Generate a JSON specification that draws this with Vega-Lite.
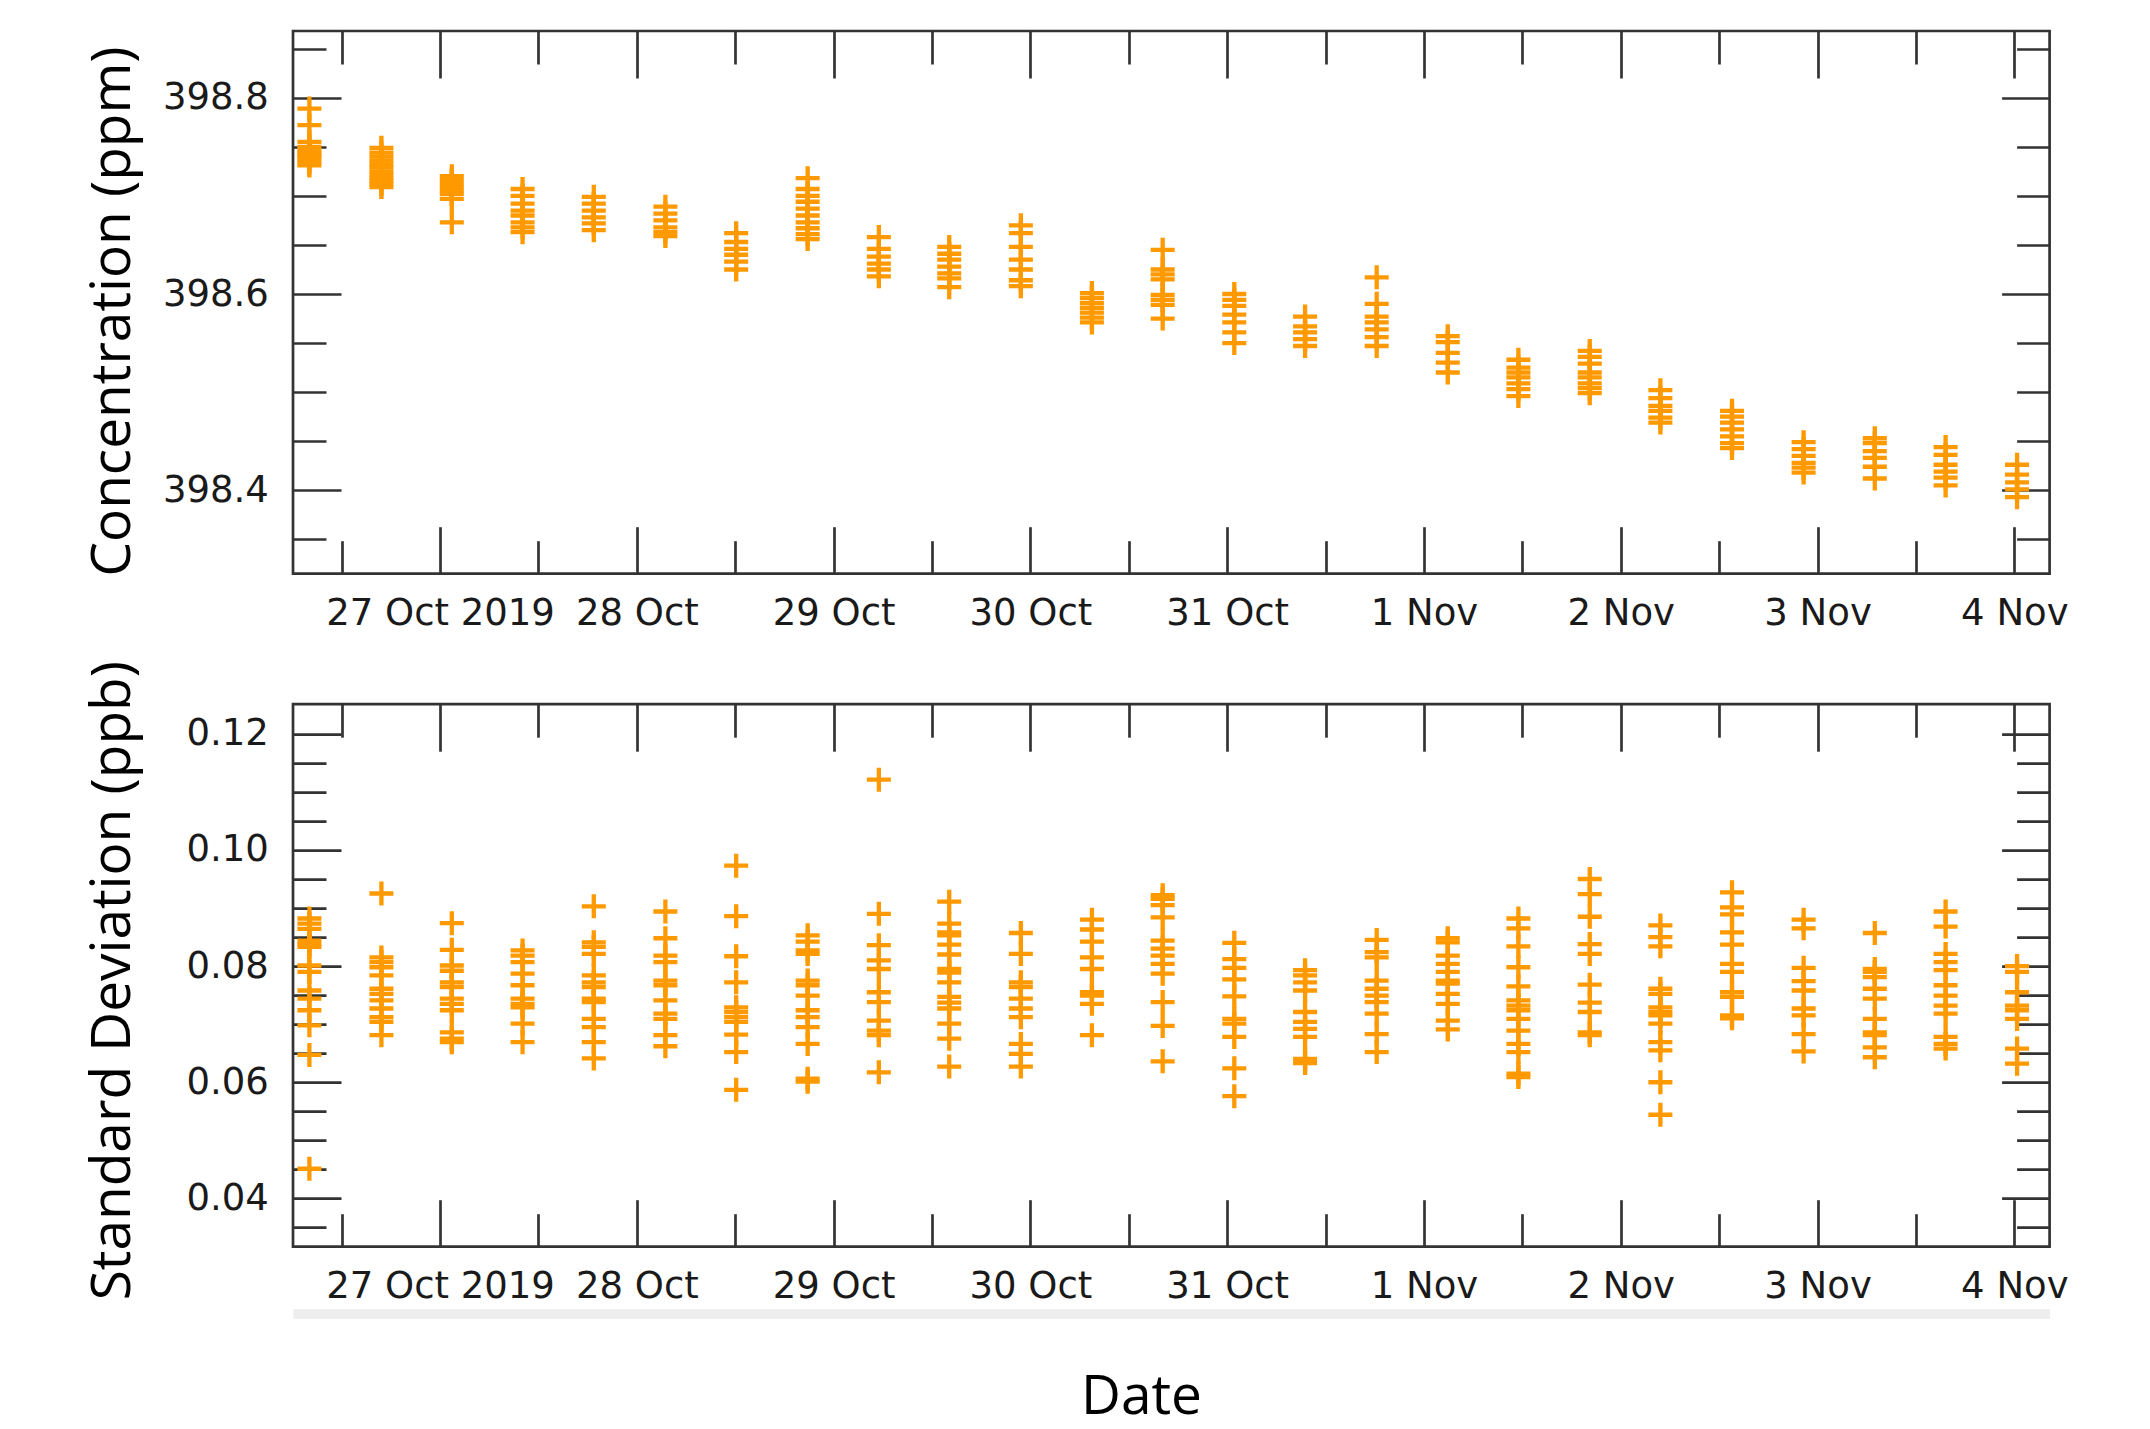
{
"$schema": "https://vega.github.io/schema/vega-lite/v6.json",
"background": "white",
"padding": {"left": 84, "top": 28, "right": 10, "bottom": 8},
"config": {
  "view": {"stroke": "#333333", "strokeWidth": 2.7},
  "axis": {"grid": false, "domain": false, "labelFont": "DejaVu Sans", "labelFontSize": 37, "labelColor": "#1a1a1a", "labelLimit": 0, "tickColor": "#333333", "tickWidth": 2.7, "titleFont": "Open Sans", "titleFontSize": 55, "titleFontWeight": "normal", "titleColor": "#000000", "labelOverlap": false, "labelFlush": false, "labelBound": false}
},
"datasets": {
"conc": [
{"t":"2019-10-26T08:04:00Z","c":398.789},{"t":"2019-10-26T08:04:00Z","c":398.772},{"t":"2019-10-26T08:04:00Z","c":398.755},{"t":"2019-10-26T08:04:00Z","c":398.750},{"t":"2019-10-26T08:04:00Z","c":398.747},{"t":"2019-10-26T08:04:00Z","c":398.744},{"t":"2019-10-26T08:04:00Z","c":398.742},{"t":"2019-10-26T08:04:00Z","c":398.740},{"t":"2019-10-26T08:04:00Z","c":398.737},{"t":"2019-10-26T08:04:00Z","c":398.734},{"t":"2019-10-26T08:04:00Z","c":398.731},
{"t":"2019-10-26T16:51:00Z","c":398.749},{"t":"2019-10-26T16:51:00Z","c":398.744},{"t":"2019-10-26T16:51:00Z","c":398.740},{"t":"2019-10-26T16:51:00Z","c":398.736},{"t":"2019-10-26T16:51:00Z","c":398.732},{"t":"2019-10-26T16:51:00Z","c":398.729},{"t":"2019-10-26T16:51:00Z","c":398.725},{"t":"2019-10-26T16:51:00Z","c":398.722},{"t":"2019-10-26T16:51:00Z","c":398.718},{"t":"2019-10-26T16:51:00Z","c":398.715},{"t":"2019-10-26T16:51:00Z","c":398.712},{"t":"2019-10-26T16:51:00Z","c":398.709},
{"t":"2019-10-27T01:26:00Z","c":398.720},{"t":"2019-10-27T01:26:00Z","c":398.716},{"t":"2019-10-27T01:26:00Z","c":398.712},{"t":"2019-10-27T01:26:00Z","c":398.709},{"t":"2019-10-27T01:26:00Z","c":398.705},{"t":"2019-10-27T01:26:00Z","c":398.702},{"t":"2019-10-27T01:26:00Z","c":398.697},{"t":"2019-10-27T01:26:00Z","c":398.673},
{"t":"2019-10-27T10:04:00Z","c":398.707},{"t":"2019-10-27T10:04:00Z","c":398.700},{"t":"2019-10-27T10:04:00Z","c":398.692},{"t":"2019-10-27T10:04:00Z","c":398.685},{"t":"2019-10-27T10:04:00Z","c":398.680},{"t":"2019-10-27T10:04:00Z","c":398.673},{"t":"2019-10-27T10:04:00Z","c":398.668},{"t":"2019-10-27T10:04:00Z","c":398.663},
{"t":"2019-10-27T18:45:00Z","c":398.699},{"t":"2019-10-27T18:45:00Z","c":398.692},{"t":"2019-10-27T18:45:00Z","c":398.685},{"t":"2019-10-27T18:45:00Z","c":398.678},{"t":"2019-10-27T18:45:00Z","c":398.672},{"t":"2019-10-27T18:45:00Z","c":398.665},
{"t":"2019-10-28T03:29:00Z","c":398.689},{"t":"2019-10-28T03:29:00Z","c":398.682},{"t":"2019-10-28T03:29:00Z","c":398.675},{"t":"2019-10-28T03:29:00Z","c":398.668},{"t":"2019-10-28T03:29:00Z","c":398.663},{"t":"2019-10-28T03:29:00Z","c":398.659},
{"t":"2019-10-28T12:07:00Z","c":398.662},{"t":"2019-10-28T12:07:00Z","c":398.653},{"t":"2019-10-28T12:07:00Z","c":398.646},{"t":"2019-10-28T12:07:00Z","c":398.640},{"t":"2019-10-28T12:07:00Z","c":398.633},{"t":"2019-10-28T12:07:00Z","c":398.625},
{"t":"2019-10-28T20:50:00Z","c":398.718},{"t":"2019-10-28T20:50:00Z","c":398.707},{"t":"2019-10-28T20:50:00Z","c":398.700},{"t":"2019-10-28T20:50:00Z","c":398.694},{"t":"2019-10-28T20:50:00Z","c":398.687},{"t":"2019-10-28T20:50:00Z","c":398.680},{"t":"2019-10-28T20:50:00Z","c":398.673},{"t":"2019-10-28T20:50:00Z","c":398.667},{"t":"2019-10-28T20:50:00Z","c":398.661},{"t":"2019-10-28T20:50:00Z","c":398.656},
{"t":"2019-10-29T05:31:00Z","c":398.658},{"t":"2019-10-29T05:31:00Z","c":398.646},{"t":"2019-10-29T05:31:00Z","c":398.638},{"t":"2019-10-29T05:31:00Z","c":398.631},{"t":"2019-10-29T05:31:00Z","c":398.625},{"t":"2019-10-29T05:31:00Z","c":398.618},
{"t":"2019-10-29T14:06:00Z","c":398.648},{"t":"2019-10-29T14:06:00Z","c":398.641},{"t":"2019-10-29T14:06:00Z","c":398.635},{"t":"2019-10-29T14:06:00Z","c":398.628},{"t":"2019-10-29T14:06:00Z","c":398.621},{"t":"2019-10-29T14:06:00Z","c":398.616},{"t":"2019-10-29T14:06:00Z","c":398.607},
{"t":"2019-10-29T22:50:00Z","c":398.670},{"t":"2019-10-29T22:50:00Z","c":398.662},{"t":"2019-10-29T22:50:00Z","c":398.648},{"t":"2019-10-29T22:50:00Z","c":398.635},{"t":"2019-10-29T22:50:00Z","c":398.625},{"t":"2019-10-29T22:50:00Z","c":398.614},{"t":"2019-10-29T22:50:00Z","c":398.608},
{"t":"2019-10-30T07:30:00Z","c":398.601},{"t":"2019-10-30T07:30:00Z","c":398.596},{"t":"2019-10-30T07:30:00Z","c":398.591},{"t":"2019-10-30T07:30:00Z","c":398.586},{"t":"2019-10-30T07:30:00Z","c":398.581},{"t":"2019-10-30T07:30:00Z","c":398.576},{"t":"2019-10-30T07:30:00Z","c":398.571},
{"t":"2019-10-30T16:08:00Z","c":398.645},{"t":"2019-10-30T16:08:00Z","c":398.625},{"t":"2019-10-30T16:08:00Z","c":398.620},{"t":"2019-10-30T16:08:00Z","c":398.615},{"t":"2019-10-30T16:08:00Z","c":398.599},{"t":"2019-10-30T16:08:00Z","c":398.594},{"t":"2019-10-30T16:08:00Z","c":398.589},{"t":"2019-10-30T16:08:00Z","c":398.575},
{"t":"2019-10-31T00:52:00Z","c":398.600},{"t":"2019-10-31T00:52:00Z","c":398.594},{"t":"2019-10-31T00:52:00Z","c":398.588},{"t":"2019-10-31T00:52:00Z","c":398.579},{"t":"2019-10-31T00:52:00Z","c":398.571},{"t":"2019-10-31T00:52:00Z","c":398.561},{"t":"2019-10-31T00:52:00Z","c":398.550},
{"t":"2019-10-31T09:30:00Z","c":398.577},{"t":"2019-10-31T09:30:00Z","c":398.567},{"t":"2019-10-31T09:30:00Z","c":398.561},{"t":"2019-10-31T09:30:00Z","c":398.554},{"t":"2019-10-31T09:30:00Z","c":398.547},
{"t":"2019-10-31T18:14:00Z","c":398.617},{"t":"2019-10-31T18:14:00Z","c":398.590},{"t":"2019-10-31T18:14:00Z","c":398.577},{"t":"2019-10-31T18:14:00Z","c":398.571},{"t":"2019-10-31T18:14:00Z","c":398.564},{"t":"2019-10-31T18:14:00Z","c":398.556},{"t":"2019-10-31T18:14:00Z","c":398.547},
{"t":"2019-11-01T02:54:00Z","c":398.557},{"t":"2019-11-01T02:54:00Z","c":398.551},{"t":"2019-11-01T02:54:00Z","c":398.540},{"t":"2019-11-01T02:54:00Z","c":398.530},{"t":"2019-11-01T02:54:00Z","c":398.520},
{"t":"2019-11-01T11:31:00Z","c":398.533},{"t":"2019-11-01T11:31:00Z","c":398.525},{"t":"2019-11-01T11:31:00Z","c":398.520},{"t":"2019-11-01T11:31:00Z","c":398.515},{"t":"2019-11-01T11:31:00Z","c":398.509},{"t":"2019-11-01T11:31:00Z","c":398.503},{"t":"2019-11-01T11:31:00Z","c":398.496},
{"t":"2019-11-01T20:13:00Z","c":398.542},{"t":"2019-11-01T20:13:00Z","c":398.536},{"t":"2019-11-01T20:13:00Z","c":398.529},{"t":"2019-11-01T20:13:00Z","c":398.520},{"t":"2019-11-01T20:13:00Z","c":398.515},{"t":"2019-11-01T20:13:00Z","c":398.509},{"t":"2019-11-01T20:13:00Z","c":398.504},{"t":"2019-11-01T20:13:00Z","c":398.499},
{"t":"2019-11-02T04:50:00Z","c":398.502},{"t":"2019-11-02T04:50:00Z","c":398.494},{"t":"2019-11-02T04:50:00Z","c":398.486},{"t":"2019-11-02T04:50:00Z","c":398.481},{"t":"2019-11-02T04:50:00Z","c":398.474},{"t":"2019-11-02T04:50:00Z","c":398.469},
{"t":"2019-11-02T13:34:00Z","c":398.481},{"t":"2019-11-02T13:34:00Z","c":398.475},{"t":"2019-11-02T13:34:00Z","c":398.469},{"t":"2019-11-02T13:34:00Z","c":398.462},{"t":"2019-11-02T13:34:00Z","c":398.455},{"t":"2019-11-02T13:34:00Z","c":398.448},{"t":"2019-11-02T13:34:00Z","c":398.443},
{"t":"2019-11-02T22:18:00Z","c":398.449},{"t":"2019-11-02T22:18:00Z","c":398.442},{"t":"2019-11-02T22:18:00Z","c":398.435},{"t":"2019-11-02T22:18:00Z","c":398.428},{"t":"2019-11-02T22:18:00Z","c":398.423},{"t":"2019-11-02T22:18:00Z","c":398.418},
{"t":"2019-11-03T06:59:00Z","c":398.453},{"t":"2019-11-03T06:59:00Z","c":398.448},{"t":"2019-11-03T06:59:00Z","c":398.440},{"t":"2019-11-03T06:59:00Z","c":398.433},{"t":"2019-11-03T06:59:00Z","c":398.424},{"t":"2019-11-03T06:59:00Z","c":398.412},
{"t":"2019-11-03T15:37:00Z","c":398.444},{"t":"2019-11-03T15:37:00Z","c":398.436},{"t":"2019-11-03T15:37:00Z","c":398.426},{"t":"2019-11-03T15:37:00Z","c":398.419},{"t":"2019-11-03T15:37:00Z","c":398.413},{"t":"2019-11-03T15:37:00Z","c":398.405},
{"t":"2019-11-04T00:20:00Z","c":398.426},{"t":"2019-11-04T00:20:00Z","c":398.416},{"t":"2019-11-04T00:20:00Z","c":398.408},{"t":"2019-11-04T00:20:00Z","c":398.401},{"t":"2019-11-04T00:20:00Z","c":398.393}
],
"sd": [
{"t":"2019-10-26T08:04:00Z","s":0.0882},{"t":"2019-10-26T08:04:00Z","s":0.0873},{"t":"2019-10-26T08:04:00Z","s":0.0864},{"t":"2019-10-26T08:04:00Z","s":0.0844},{"t":"2019-10-26T08:04:00Z","s":0.0838},{"t":"2019-10-26T08:04:00Z","s":0.0833},{"t":"2019-10-26T08:04:00Z","s":0.0801},{"t":"2019-10-26T08:04:00Z","s":0.0790},{"t":"2019-10-26T08:04:00Z","s":0.0758},{"t":"2019-10-26T08:04:00Z","s":0.0744},{"t":"2019-10-26T08:04:00Z","s":0.0724},{"t":"2019-10-26T08:04:00Z","s":0.0698},{"t":"2019-10-26T08:04:00Z","s":0.0647},{"t":"2019-10-26T08:04:00Z","s":0.0451},
{"t":"2019-10-26T16:51:00Z","s":0.0925},{"t":"2019-10-26T16:51:00Z","s":0.0815},{"t":"2019-10-26T16:51:00Z","s":0.0807},{"t":"2019-10-26T16:51:00Z","s":0.0798},{"t":"2019-10-26T16:51:00Z","s":0.0784},{"t":"2019-10-26T16:51:00Z","s":0.0761},{"t":"2019-10-26T16:51:00Z","s":0.0752},{"t":"2019-10-26T16:51:00Z","s":0.0741},{"t":"2019-10-26T16:51:00Z","s":0.0727},{"t":"2019-10-26T16:51:00Z","s":0.0712},{"t":"2019-10-26T16:51:00Z","s":0.0704},{"t":"2019-10-26T16:51:00Z","s":0.0681},
{"t":"2019-10-27T01:26:00Z","s":0.0874},{"t":"2019-10-27T01:26:00Z","s":0.0828},{"t":"2019-10-27T01:26:00Z","s":0.0801},{"t":"2019-10-27T01:26:00Z","s":0.0792},{"t":"2019-10-27T01:26:00Z","s":0.0772},{"t":"2019-10-27T01:26:00Z","s":0.0764},{"t":"2019-10-27T01:26:00Z","s":0.0744},{"t":"2019-10-27T01:26:00Z","s":0.0735},{"t":"2019-10-27T01:26:00Z","s":0.0724},{"t":"2019-10-27T01:26:00Z","s":0.0686},{"t":"2019-10-27T01:26:00Z","s":0.0675},{"t":"2019-10-27T01:26:00Z","s":0.0669},
{"t":"2019-10-27T10:04:00Z","s":0.0827},{"t":"2019-10-27T10:04:00Z","s":0.0818},{"t":"2019-10-27T10:04:00Z","s":0.0807},{"t":"2019-10-27T10:04:00Z","s":0.0787},{"t":"2019-10-27T10:04:00Z","s":0.0767},{"t":"2019-10-27T10:04:00Z","s":0.0744},{"t":"2019-10-27T10:04:00Z","s":0.0735},{"t":"2019-10-27T10:04:00Z","s":0.0729},{"t":"2019-10-27T10:04:00Z","s":0.0701},{"t":"2019-10-27T10:04:00Z","s":0.0669},
{"t":"2019-10-27T18:45:00Z","s":0.0903},{"t":"2019-10-27T18:45:00Z","s":0.0841},{"t":"2019-10-27T18:45:00Z","s":0.0833},{"t":"2019-10-27T18:45:00Z","s":0.0821},{"t":"2019-10-27T18:45:00Z","s":0.0784},{"t":"2019-10-27T18:45:00Z","s":0.0772},{"t":"2019-10-27T18:45:00Z","s":0.0764},{"t":"2019-10-27T18:45:00Z","s":0.0744},{"t":"2019-10-27T18:45:00Z","s":0.0738},{"t":"2019-10-27T18:45:00Z","s":0.0709},{"t":"2019-10-27T18:45:00Z","s":0.0695},{"t":"2019-10-27T18:45:00Z","s":0.0669},{"t":"2019-10-27T18:45:00Z","s":0.0641},
{"t":"2019-10-28T03:29:00Z","s":0.0894},{"t":"2019-10-28T03:29:00Z","s":0.0848},{"t":"2019-10-28T03:29:00Z","s":0.0818},{"t":"2019-10-28T03:29:00Z","s":0.0807},{"t":"2019-10-28T03:29:00Z","s":0.0775},{"t":"2019-10-28T03:29:00Z","s":0.0767},{"t":"2019-10-28T03:29:00Z","s":0.0741},{"t":"2019-10-28T03:29:00Z","s":0.0718},{"t":"2019-10-28T03:29:00Z","s":0.0709},{"t":"2019-10-28T03:29:00Z","s":0.0681},{"t":"2019-10-28T03:29:00Z","s":0.0662},
{"t":"2019-10-28T12:07:00Z","s":0.0973},{"t":"2019-10-28T12:07:00Z","s":0.0886},{"t":"2019-10-28T12:07:00Z","s":0.0817},{"t":"2019-10-28T12:07:00Z","s":0.0772},{"t":"2019-10-28T12:07:00Z","s":0.0729},{"t":"2019-10-28T12:07:00Z","s":0.0721},{"t":"2019-10-28T12:07:00Z","s":0.0712},{"t":"2019-10-28T12:07:00Z","s":0.0704},{"t":"2019-10-28T12:07:00Z","s":0.0682},{"t":"2019-10-28T12:07:00Z","s":0.0652},{"t":"2019-10-28T12:07:00Z","s":0.0587},
{"t":"2019-10-28T20:50:00Z","s":0.0853},{"t":"2019-10-28T20:50:00Z","s":0.0842},{"t":"2019-10-28T20:50:00Z","s":0.0827},{"t":"2019-10-28T20:50:00Z","s":0.0821},{"t":"2019-10-28T20:50:00Z","s":0.0775},{"t":"2019-10-28T20:50:00Z","s":0.0767},{"t":"2019-10-28T20:50:00Z","s":0.0749},{"t":"2019-10-28T20:50:00Z","s":0.0724},{"t":"2019-10-28T20:50:00Z","s":0.0712},{"t":"2019-10-28T20:50:00Z","s":0.0695},{"t":"2019-10-28T20:50:00Z","s":0.0666},{"t":"2019-10-28T20:50:00Z","s":0.0606},{"t":"2019-10-28T20:50:00Z","s":0.0601},
{"t":"2019-10-29T05:31:00Z","s":0.1121},{"t":"2019-10-29T05:31:00Z","s":0.0890},{"t":"2019-10-29T05:31:00Z","s":0.0836},{"t":"2019-10-29T05:31:00Z","s":0.0810},{"t":"2019-10-29T05:31:00Z","s":0.0795},{"t":"2019-10-29T05:31:00Z","s":0.0755},{"t":"2019-10-29T05:31:00Z","s":0.0738},{"t":"2019-10-29T05:31:00Z","s":0.0706},{"t":"2019-10-29T05:31:00Z","s":0.0689},{"t":"2019-10-29T05:31:00Z","s":0.0681},{"t":"2019-10-29T05:31:00Z","s":0.0617},
{"t":"2019-10-29T14:06:00Z","s":0.0911},{"t":"2019-10-29T14:06:00Z","s":0.0873},{"t":"2019-10-29T14:06:00Z","s":0.0858},{"t":"2019-10-29T14:06:00Z","s":0.0853},{"t":"2019-10-29T14:06:00Z","s":0.0837},{"t":"2019-10-29T14:06:00Z","s":0.0820},{"t":"2019-10-29T14:06:00Z","s":0.0795},{"t":"2019-10-29T14:06:00Z","s":0.0789},{"t":"2019-10-29T14:06:00Z","s":0.0772},{"t":"2019-10-29T14:06:00Z","s":0.0747},{"t":"2019-10-29T14:06:00Z","s":0.0737},{"t":"2019-10-29T14:06:00Z","s":0.0727},{"t":"2019-10-29T14:06:00Z","s":0.0701},{"t":"2019-10-29T14:06:00Z","s":0.0675},{"t":"2019-10-29T14:06:00Z","s":0.0627},
{"t":"2019-10-29T22:50:00Z","s":0.0857},{"t":"2019-10-29T22:50:00Z","s":0.0821},{"t":"2019-10-29T22:50:00Z","s":0.0772},{"t":"2019-10-29T22:50:00Z","s":0.0764},{"t":"2019-10-29T22:50:00Z","s":0.0744},{"t":"2019-10-29T22:50:00Z","s":0.0727},{"t":"2019-10-29T22:50:00Z","s":0.0712},{"t":"2019-10-29T22:50:00Z","s":0.0666},{"t":"2019-10-29T22:50:00Z","s":0.0649},{"t":"2019-10-29T22:50:00Z","s":0.0627},
{"t":"2019-10-30T07:30:00Z","s":0.0880},{"t":"2019-10-30T07:30:00Z","s":0.0863},{"t":"2019-10-30T07:30:00Z","s":0.0842},{"t":"2019-10-30T07:30:00Z","s":0.0815},{"t":"2019-10-30T07:30:00Z","s":0.0795},{"t":"2019-10-30T07:30:00Z","s":0.0755},{"t":"2019-10-30T07:30:00Z","s":0.0749},{"t":"2019-10-30T07:30:00Z","s":0.0735},{"t":"2019-10-30T07:30:00Z","s":0.0681},
{"t":"2019-10-30T16:08:00Z","s":0.0922},{"t":"2019-10-30T16:08:00Z","s":0.0916},{"t":"2019-10-30T16:08:00Z","s":0.0905},{"t":"2019-10-30T16:08:00Z","s":0.0884},{"t":"2019-10-30T16:08:00Z","s":0.0844},{"t":"2019-10-30T16:08:00Z","s":0.0830},{"t":"2019-10-30T16:08:00Z","s":0.0818},{"t":"2019-10-30T16:08:00Z","s":0.0804},{"t":"2019-10-30T16:08:00Z","s":0.0787},{"t":"2019-10-30T16:08:00Z","s":0.0738},{"t":"2019-10-30T16:08:00Z","s":0.0697},{"t":"2019-10-30T16:08:00Z","s":0.0636},
{"t":"2019-10-31T00:52:00Z","s":0.0840},{"t":"2019-10-31T00:52:00Z","s":0.0812},{"t":"2019-10-31T00:52:00Z","s":0.0797},{"t":"2019-10-31T00:52:00Z","s":0.0777},{"t":"2019-10-31T00:52:00Z","s":0.0748},{"t":"2019-10-31T00:52:00Z","s":0.0709},{"t":"2019-10-31T00:52:00Z","s":0.0701},{"t":"2019-10-31T00:52:00Z","s":0.0678},{"t":"2019-10-31T00:52:00Z","s":0.0624},{"t":"2019-10-31T00:52:00Z","s":0.0576},
{"t":"2019-10-31T09:30:00Z","s":0.0793},{"t":"2019-10-31T09:30:00Z","s":0.0784},{"t":"2019-10-31T09:30:00Z","s":0.0772},{"t":"2019-10-31T09:30:00Z","s":0.0758},{"t":"2019-10-31T09:30:00Z","s":0.0721},{"t":"2019-10-31T09:30:00Z","s":0.0704},{"t":"2019-10-31T09:30:00Z","s":0.0692},{"t":"2019-10-31T09:30:00Z","s":0.0678},{"t":"2019-10-31T09:30:00Z","s":0.0640},{"t":"2019-10-31T09:30:00Z","s":0.0633},
{"t":"2019-10-31T18:14:00Z","s":0.0845},{"t":"2019-10-31T18:14:00Z","s":0.0824},{"t":"2019-10-31T18:14:00Z","s":0.0815},{"t":"2019-10-31T18:14:00Z","s":0.0775},{"t":"2019-10-31T18:14:00Z","s":0.0761},{"t":"2019-10-31T18:14:00Z","s":0.0749},{"t":"2019-10-31T18:14:00Z","s":0.0738},{"t":"2019-10-31T18:14:00Z","s":0.0718},{"t":"2019-10-31T18:14:00Z","s":0.0683},{"t":"2019-10-31T18:14:00Z","s":0.0652},
{"t":"2019-11-01T02:54:00Z","s":0.0848},{"t":"2019-11-01T02:54:00Z","s":0.0841},{"t":"2019-11-01T02:54:00Z","s":0.0818},{"t":"2019-11-01T02:54:00Z","s":0.0804},{"t":"2019-11-01T02:54:00Z","s":0.0790},{"t":"2019-11-01T02:54:00Z","s":0.0775},{"t":"2019-11-01T02:54:00Z","s":0.0770},{"t":"2019-11-01T02:54:00Z","s":0.0752},{"t":"2019-11-01T02:54:00Z","s":0.0735},{"t":"2019-11-01T02:54:00Z","s":0.0706},{"t":"2019-11-01T02:54:00Z","s":0.0691},
{"t":"2019-11-01T11:31:00Z","s":0.0882},{"t":"2019-11-01T11:31:00Z","s":0.0865},{"t":"2019-11-01T11:31:00Z","s":0.0834},{"t":"2019-11-01T11:31:00Z","s":0.0798},{"t":"2019-11-01T11:31:00Z","s":0.0765},{"t":"2019-11-01T11:31:00Z","s":0.0741},{"t":"2019-11-01T11:31:00Z","s":0.0732},{"t":"2019-11-01T11:31:00Z","s":0.0724},{"t":"2019-11-01T11:31:00Z","s":0.0709},{"t":"2019-11-01T11:31:00Z","s":0.0689},{"t":"2019-11-01T11:31:00Z","s":0.0666},{"t":"2019-11-01T11:31:00Z","s":0.0652},{"t":"2019-11-01T11:31:00Z","s":0.0615},{"t":"2019-11-01T11:31:00Z","s":0.0609},
{"t":"2019-11-01T20:13:00Z","s":0.0950},{"t":"2019-11-01T20:13:00Z","s":0.0924},{"t":"2019-11-01T20:13:00Z","s":0.0885},{"t":"2019-11-01T20:13:00Z","s":0.0838},{"t":"2019-11-01T20:13:00Z","s":0.0821},{"t":"2019-11-01T20:13:00Z","s":0.0768},{"t":"2019-11-01T20:13:00Z","s":0.0737},{"t":"2019-11-01T20:13:00Z","s":0.0721},{"t":"2019-11-01T20:13:00Z","s":0.0686},{"t":"2019-11-01T20:13:00Z","s":0.0681},
{"t":"2019-11-02T04:50:00Z","s":0.0870},{"t":"2019-11-02T04:50:00Z","s":0.0850},{"t":"2019-11-02T04:50:00Z","s":0.0834},{"t":"2019-11-02T04:50:00Z","s":0.0761},{"t":"2019-11-02T04:50:00Z","s":0.0752},{"t":"2019-11-02T04:50:00Z","s":0.0729},{"t":"2019-11-02T04:50:00Z","s":0.0721},{"t":"2019-11-02T04:50:00Z","s":0.0715},{"t":"2019-11-02T04:50:00Z","s":0.0701},{"t":"2019-11-02T04:50:00Z","s":0.0669},{"t":"2019-11-02T04:50:00Z","s":0.0655},{"t":"2019-11-02T04:50:00Z","s":0.0600},{"t":"2019-11-02T04:50:00Z","s":0.0544},
{"t":"2019-11-02T13:34:00Z","s":0.0927},{"t":"2019-11-02T13:34:00Z","s":0.0901},{"t":"2019-11-02T13:34:00Z","s":0.0889},{"t":"2019-11-02T13:34:00Z","s":0.0858},{"t":"2019-11-02T13:34:00Z","s":0.0837},{"t":"2019-11-02T13:34:00Z","s":0.0804},{"t":"2019-11-02T13:34:00Z","s":0.0790},{"t":"2019-11-02T13:34:00Z","s":0.0755},{"t":"2019-11-02T13:34:00Z","s":0.0747},{"t":"2019-11-02T13:34:00Z","s":0.0715},{"t":"2019-11-02T13:34:00Z","s":0.0710},
{"t":"2019-11-02T22:18:00Z","s":0.0880},{"t":"2019-11-02T22:18:00Z","s":0.0865},{"t":"2019-11-02T22:18:00Z","s":0.0797},{"t":"2019-11-02T22:18:00Z","s":0.0774},{"t":"2019-11-02T22:18:00Z","s":0.0758},{"t":"2019-11-02T22:18:00Z","s":0.0727},{"t":"2019-11-02T22:18:00Z","s":0.0715},{"t":"2019-11-02T22:18:00Z","s":0.0683},{"t":"2019-11-02T22:18:00Z","s":0.0653},
{"t":"2019-11-03T06:59:00Z","s":0.0857},{"t":"2019-11-03T06:59:00Z","s":0.0795},{"t":"2019-11-03T06:59:00Z","s":0.0790},{"t":"2019-11-03T06:59:00Z","s":0.0781},{"t":"2019-11-03T06:59:00Z","s":0.0761},{"t":"2019-11-03T06:59:00Z","s":0.0744},{"t":"2019-11-03T06:59:00Z","s":0.0709},{"t":"2019-11-03T06:59:00Z","s":0.0686},{"t":"2019-11-03T06:59:00Z","s":0.0681},{"t":"2019-11-03T06:59:00Z","s":0.0660},{"t":"2019-11-03T06:59:00Z","s":0.0643},
{"t":"2019-11-03T15:37:00Z","s":0.0894},{"t":"2019-11-03T15:37:00Z","s":0.0868},{"t":"2019-11-03T15:37:00Z","s":0.0821},{"t":"2019-11-03T15:37:00Z","s":0.0807},{"t":"2019-11-03T15:37:00Z","s":0.0793},{"t":"2019-11-03T15:37:00Z","s":0.0767},{"t":"2019-11-03T15:37:00Z","s":0.0749},{"t":"2019-11-03T15:37:00Z","s":0.0732},{"t":"2019-11-03T15:37:00Z","s":0.0718},{"t":"2019-11-03T15:37:00Z","s":0.0678},{"t":"2019-11-03T15:37:00Z","s":0.0666},{"t":"2019-11-03T15:37:00Z","s":0.0658},
{"t":"2019-11-04T00:20:00Z","s":0.0800},{"t":"2019-11-04T00:20:00Z","s":0.0790},{"t":"2019-11-04T00:20:00Z","s":0.0755},{"t":"2019-11-04T00:20:00Z","s":0.0732},{"t":"2019-11-04T00:20:00Z","s":0.0724},{"t":"2019-11-04T00:20:00Z","s":0.0709},{"t":"2019-11-04T00:20:00Z","s":0.0658},{"t":"2019-11-04T00:20:00Z","s":0.0632}
]
},
"bounds": "flush",
"spacing": 130.2,
"vconcat": [
{
  "width": 1756.6, "height": 542.7,
  "data": {"name": "conc"},
  "resolve": {"axis": {"x": "independent", "y": "independent"}},
  "layer": [
    {"mark": {"type": "point", "shape": "M-1,0H1M0,-1V1", "filled": false, "color": "#ff9900", "stroke": "#ff9900", "strokeWidth": 4.3, "size": 576, "opacity": 1},
     "encoding": {
       "x": {"field": "t", "type": "temporal", "scale": {"type": "utc", "nice": false, "domain": [{"year": 2019, "month": "oct", "date": 26, "hours": 6, "minutes": 4, "utc": true}, {"year": 2019, "month": "nov", "date": 4, "hours": 4, "minutes": 18, "utc": true}]},
             "axis": {"orient": "bottom", "ticks": false, "labelPadding": 22, "title": null, "labelExpr": "utcdate(datum.value) == 27 ? '27 Oct 2019' : utcFormat(datum.value, '%-d %b')",
                      "values": [{"year":2019,"month":"oct","date":27,"utc":true},{"year":2019,"month":"oct","date":28,"utc":true},{"year":2019,"month":"oct","date":29,"utc":true},{"year":2019,"month":"oct","date":30,"utc":true},{"year":2019,"month":"oct","date":31,"utc":true},{"year":2019,"month":"nov","date":1,"utc":true},{"year":2019,"month":"nov","date":2,"utc":true},{"year":2019,"month":"nov","date":3,"utc":true},{"year":2019,"month":"nov","date":4,"utc":true}]}},
       "y": {"field": "c", "type": "quantitative", "scale": {"domain": [398.315, 398.868], "zero": false, "nice": false},
             "axis": {"orient": "left", "values": [398.4, 398.6, 398.8], "ticks": false, "format": ".1f", "labelPadding": 24.7, "labelBaseline": "middle", "title": "Concentration (ppm)", "titleX": -180, "titleY": 280, "titleAngle": -90, "titleBaseline": "middle", "titleAlign": "center"}}
     }},
    {"mark": {"type": "point", "opacity": 0},
     "encoding": {
       "x": {"field": "t", "type": "temporal", "scale": {"type": "utc", "nice": false, "domain": [{"year": 2019, "month": "oct", "date": 26, "hours": 6, "minutes": 4, "utc": true}, {"year": 2019, "month": "nov", "date": 4, "hours": 4, "minutes": 18, "utc": true}]},
             "axis": {"orient": "bottom", "labels": false, "tickSize": -47, "title": null,
                      "values": [{"year":2019,"month":"oct","date":27,"utc":true},{"year":2019,"month":"oct","date":28,"utc":true},{"year":2019,"month":"oct","date":29,"utc":true},{"year":2019,"month":"oct","date":30,"utc":true},{"year":2019,"month":"oct","date":31,"utc":true},{"year":2019,"month":"nov","date":1,"utc":true},{"year":2019,"month":"nov","date":2,"utc":true},{"year":2019,"month":"nov","date":3,"utc":true},{"year":2019,"month":"nov","date":4,"utc":true}]}},
       "y": {"field": "c", "type": "quantitative", "scale": {"domain": [398.315, 398.868], "zero": false, "nice": false},
             "axis": {"orient": "left", "values": [398.4, 398.6, 398.8], "labels": false, "tickSize": -48, "title": null}}
     }},
    {"mark": {"type": "point", "opacity": 0},
     "encoding": {
       "x": {"field": "t", "type": "temporal", "scale": {"type": "utc", "nice": false, "domain": [{"year": 2019, "month": "oct", "date": 26, "hours": 6, "minutes": 4, "utc": true}, {"year": 2019, "month": "nov", "date": 4, "hours": 4, "minutes": 18, "utc": true}]},
             "axis": {"orient": "bottom", "labels": false, "tickSize": -33, "title": null,
                      "values": [{"year":2019,"month":"oct","date":26,"hours":12,"utc":true},{"year":2019,"month":"oct","date":27,"hours":12,"utc":true},{"year":2019,"month":"oct","date":28,"hours":12,"utc":true},{"year":2019,"month":"oct","date":29,"hours":12,"utc":true},{"year":2019,"month":"oct","date":30,"hours":12,"utc":true},{"year":2019,"month":"oct","date":31,"hours":12,"utc":true},{"year":2019,"month":"nov","date":1,"hours":12,"utc":true},{"year":2019,"month":"nov","date":2,"hours":12,"utc":true},{"year":2019,"month":"nov","date":3,"hours":12,"utc":true}]}},
       "y": {"field": "c", "type": "quantitative", "scale": {"domain": [398.315, 398.868], "zero": false, "nice": false},
             "axis": {"orient": "left", "values": [398.35, 398.45, 398.5, 398.55, 398.65, 398.7, 398.75, 398.85], "labels": false, "tickSize": -33, "title": null}}
     }},
    {"mark": {"type": "point", "opacity": 0},
     "encoding": {
       "x": {"field": "t", "type": "temporal", "scale": {"type": "utc", "nice": false, "domain": [{"year": 2019, "month": "oct", "date": 26, "hours": 6, "minutes": 4, "utc": true}, {"year": 2019, "month": "nov", "date": 4, "hours": 4, "minutes": 18, "utc": true}]},
             "axis": {"orient": "top", "labels": false, "tickSize": -47, "title": null,
                      "values": [{"year":2019,"month":"oct","date":27,"utc":true},{"year":2019,"month":"oct","date":28,"utc":true},{"year":2019,"month":"oct","date":29,"utc":true},{"year":2019,"month":"oct","date":30,"utc":true},{"year":2019,"month":"oct","date":31,"utc":true},{"year":2019,"month":"nov","date":1,"utc":true},{"year":2019,"month":"nov","date":2,"utc":true},{"year":2019,"month":"nov","date":3,"utc":true},{"year":2019,"month":"nov","date":4,"utc":true}]}},
       "y": {"field": "c", "type": "quantitative", "scale": {"domain": [398.315, 398.868], "zero": false, "nice": false},
             "axis": {"orient": "right", "values": [398.4, 398.6, 398.8], "labels": false, "tickSize": -48, "title": null}}
     }},
    {"mark": {"type": "point", "opacity": 0},
     "encoding": {
       "x": {"field": "t", "type": "temporal", "scale": {"type": "utc", "nice": false, "domain": [{"year": 2019, "month": "oct", "date": 26, "hours": 6, "minutes": 4, "utc": true}, {"year": 2019, "month": "nov", "date": 4, "hours": 4, "minutes": 18, "utc": true}]},
             "axis": {"orient": "top", "labels": false, "tickSize": -33, "title": null,
                      "values": [{"year":2019,"month":"oct","date":26,"hours":12,"utc":true},{"year":2019,"month":"oct","date":27,"hours":12,"utc":true},{"year":2019,"month":"oct","date":28,"hours":12,"utc":true},{"year":2019,"month":"oct","date":29,"hours":12,"utc":true},{"year":2019,"month":"oct","date":30,"hours":12,"utc":true},{"year":2019,"month":"oct","date":31,"hours":12,"utc":true},{"year":2019,"month":"nov","date":1,"hours":12,"utc":true},{"year":2019,"month":"nov","date":2,"hours":12,"utc":true},{"year":2019,"month":"nov","date":3,"hours":12,"utc":true}]}},
       "y": {"field": "c", "type": "quantitative", "scale": {"domain": [398.315, 398.868], "zero": false, "nice": false},
             "axis": {"orient": "right", "values": [398.35, 398.45, 398.5, 398.55, 398.65, 398.7, 398.75, 398.85], "labels": false, "tickSize": -33, "title": null}}
     }}
  ]
},
{
  "width": 1756.6, "height": 542.5,
  "data": {"name": "sd"},
  "resolve": {"axis": {"x": "independent", "y": "independent"}},
  "layer": [
    {"mark": {"type": "point", "shape": "M-1,0H1M0,-1V1", "filled": false, "color": "#ff9900", "stroke": "#ff9900", "strokeWidth": 4.3, "size": 576, "opacity": 1},
     "encoding": {
       "x": {"field": "t", "type": "temporal", "scale": {"type": "utc", "nice": false, "domain": [{"year": 2019, "month": "oct", "date": 26, "hours": 6, "minutes": 4, "utc": true}, {"year": 2019, "month": "nov", "date": 4, "hours": 4, "minutes": 18, "utc": true}]},
             "axis": {"orient": "bottom", "ticks": false, "labelPadding": 22, "title": "Date", "titleX": 848, "titleY": 150, "titleAngle": 0, "titleBaseline": "middle", "titleAlign": "center", "labelExpr": "utcdate(datum.value) == 27 ? '27 Oct 2019' : utcFormat(datum.value, '%-d %b')",
                      "values": [{"year":2019,"month":"oct","date":27,"utc":true},{"year":2019,"month":"oct","date":28,"utc":true},{"year":2019,"month":"oct","date":29,"utc":true},{"year":2019,"month":"oct","date":30,"utc":true},{"year":2019,"month":"oct","date":31,"utc":true},{"year":2019,"month":"nov","date":1,"utc":true},{"year":2019,"month":"nov","date":2,"utc":true},{"year":2019,"month":"nov","date":3,"utc":true},{"year":2019,"month":"nov","date":4,"utc":true}]}},
       "y": {"field": "s", "type": "quantitative", "scale": {"domain": [0.03168, 0.1251], "zero": false, "nice": false},
             "axis": {"orient": "left", "values": [0.04, 0.06, 0.08, 0.10, 0.12], "ticks": false, "format": ".2f", "labelPadding": 24.7, "labelBaseline": "middle", "title": "Standard Deviation (ppb)", "titleX": -180, "titleY": 276, "titleAngle": -90, "titleBaseline": "middle", "titleAlign": "center"}}
     }},
    {"mark": {"type": "point", "opacity": 0},
     "encoding": {
       "x": {"field": "t", "type": "temporal", "scale": {"type": "utc", "nice": false, "domain": [{"year": 2019, "month": "oct", "date": 26, "hours": 6, "minutes": 4, "utc": true}, {"year": 2019, "month": "nov", "date": 4, "hours": 4, "minutes": 18, "utc": true}]},
             "axis": {"orient": "bottom", "labels": false, "tickSize": -47, "title": null,
                      "values": [{"year":2019,"month":"oct","date":27,"utc":true},{"year":2019,"month":"oct","date":28,"utc":true},{"year":2019,"month":"oct","date":29,"utc":true},{"year":2019,"month":"oct","date":30,"utc":true},{"year":2019,"month":"oct","date":31,"utc":true},{"year":2019,"month":"nov","date":1,"utc":true},{"year":2019,"month":"nov","date":2,"utc":true},{"year":2019,"month":"nov","date":3,"utc":true},{"year":2019,"month":"nov","date":4,"utc":true}]}},
       "y": {"field": "s", "type": "quantitative", "scale": {"domain": [0.03168, 0.1251], "zero": false, "nice": false},
             "axis": {"orient": "left", "values": [0.04, 0.06, 0.08, 0.10, 0.12], "labels": false, "tickSize": -48, "title": null}}
     }},
    {"mark": {"type": "point", "opacity": 0},
     "encoding": {
       "x": {"field": "t", "type": "temporal", "scale": {"type": "utc", "nice": false, "domain": [{"year": 2019, "month": "oct", "date": 26, "hours": 6, "minutes": 4, "utc": true}, {"year": 2019, "month": "nov", "date": 4, "hours": 4, "minutes": 18, "utc": true}]},
             "axis": {"orient": "bottom", "labels": false, "tickSize": -33, "title": null,
                      "values": [{"year":2019,"month":"oct","date":26,"hours":12,"utc":true},{"year":2019,"month":"oct","date":27,"hours":12,"utc":true},{"year":2019,"month":"oct","date":28,"hours":12,"utc":true},{"year":2019,"month":"oct","date":29,"hours":12,"utc":true},{"year":2019,"month":"oct","date":30,"hours":12,"utc":true},{"year":2019,"month":"oct","date":31,"hours":12,"utc":true},{"year":2019,"month":"nov","date":1,"hours":12,"utc":true},{"year":2019,"month":"nov","date":2,"hours":12,"utc":true},{"year":2019,"month":"nov","date":3,"hours":12,"utc":true}]}},
       "y": {"field": "s", "type": "quantitative", "scale": {"domain": [0.03168, 0.1251], "zero": false, "nice": false},
             "axis": {"orient": "left", "values": [0.035, 0.045, 0.05, 0.055, 0.065, 0.07, 0.075, 0.085, 0.09, 0.095, 0.105, 0.11, 0.115], "labels": false, "tickSize": -33, "title": null}}
     }},
    {"mark": {"type": "point", "opacity": 0},
     "encoding": {
       "x": {"field": "t", "type": "temporal", "scale": {"type": "utc", "nice": false, "domain": [{"year": 2019, "month": "oct", "date": 26, "hours": 6, "minutes": 4, "utc": true}, {"year": 2019, "month": "nov", "date": 4, "hours": 4, "minutes": 18, "utc": true}]},
             "axis": {"orient": "top", "labels": false, "tickSize": -47, "title": null,
                      "values": [{"year":2019,"month":"oct","date":27,"utc":true},{"year":2019,"month":"oct","date":28,"utc":true},{"year":2019,"month":"oct","date":29,"utc":true},{"year":2019,"month":"oct","date":30,"utc":true},{"year":2019,"month":"oct","date":31,"utc":true},{"year":2019,"month":"nov","date":1,"utc":true},{"year":2019,"month":"nov","date":2,"utc":true},{"year":2019,"month":"nov","date":3,"utc":true},{"year":2019,"month":"nov","date":4,"utc":true}]}},
       "y": {"field": "s", "type": "quantitative", "scale": {"domain": [0.03168, 0.1251], "zero": false, "nice": false},
             "axis": {"orient": "right", "values": [0.04, 0.06, 0.08, 0.10, 0.12], "labels": false, "tickSize": -48, "title": null}}
     }},
    {"mark": {"type": "point", "opacity": 0},
     "encoding": {
       "x": {"field": "t", "type": "temporal", "scale": {"type": "utc", "nice": false, "domain": [{"year": 2019, "month": "oct", "date": 26, "hours": 6, "minutes": 4, "utc": true}, {"year": 2019, "month": "nov", "date": 4, "hours": 4, "minutes": 18, "utc": true}]},
             "axis": {"orient": "top", "labels": false, "tickSize": -33, "title": null,
                      "values": [{"year":2019,"month":"oct","date":26,"hours":12,"utc":true},{"year":2019,"month":"oct","date":27,"hours":12,"utc":true},{"year":2019,"month":"oct","date":28,"hours":12,"utc":true},{"year":2019,"month":"oct","date":29,"hours":12,"utc":true},{"year":2019,"month":"oct","date":30,"hours":12,"utc":true},{"year":2019,"month":"oct","date":31,"hours":12,"utc":true},{"year":2019,"month":"nov","date":1,"hours":12,"utc":true},{"year":2019,"month":"nov","date":2,"hours":12,"utc":true},{"year":2019,"month":"nov","date":3,"hours":12,"utc":true}]}},
       "y": {"field": "s", "type": "quantitative", "scale": {"domain": [0.03168, 0.1251], "zero": false, "nice": false},
             "axis": {"orient": "right", "values": [0.035, 0.045, 0.05, 0.055, 0.065, 0.07, 0.075, 0.085, 0.09, 0.095, 0.105, 0.11, 0.115], "labels": false, "tickSize": -33, "title": null}}
     }},
    {"mark": {"type": "point", "opacity": 0},
     "encoding": {
       "x": {"field": "t", "type": "temporal", "scale": {"type": "utc", "nice": false, "domain": [{"year": 2019, "month": "oct", "date": 26, "hours": 6, "minutes": 4, "utc": true}, {"year": 2019, "month": "nov", "date": 4, "hours": 4, "minutes": 18, "utc": true}]},
             "axis": {"orient": "bottom", "offset": 66.7, "domain": true, "domainColor": "#eeeeee", "domainWidth": 10, "ticks": false, "labels": false, "title": null}},
       "y": {"field": "s", "type": "quantitative", "scale": {"domain": [0.03168, 0.1251], "zero": false, "nice": false}, "axis": null}
     }}
  ]
}
]
}
